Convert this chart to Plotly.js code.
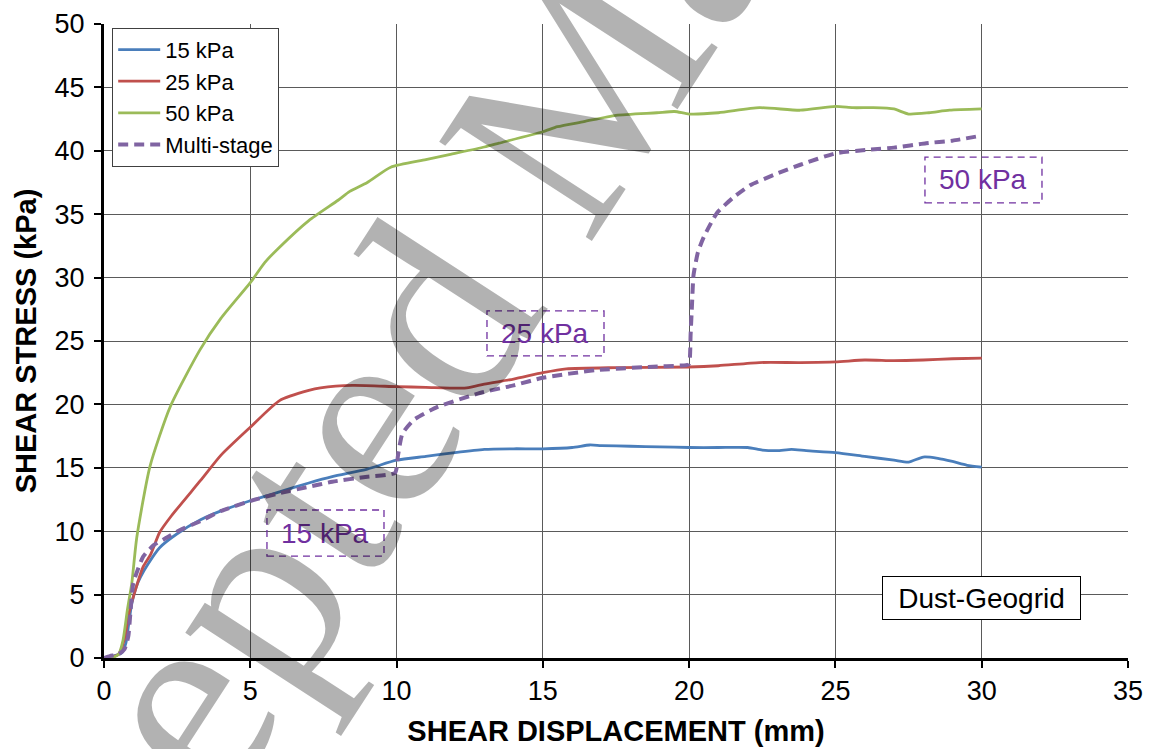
<!DOCTYPE html>
<html>
<head>
<meta charset="utf-8">
<script src="https://cdn.plot.ly/plotly-3.0.1.min.js"></script>
<style>
  html, body { margin: 0; padding: 0; background: #fff; }
  #chart { width: 1154px; height: 749px; }
</style>
</head>
<body>
<div id="chart"></div>
<script>
// Direct shear tests, dust against geogrid: shear stress vs. shear displacement

const seriesNames = ['15 kPa', '25 kPa', '50 kPa', 'Multi-stage'];

// 15 kPa normal stress
const disp15 = [0, 0.3, 0.6, 0.75, 0.85, 0.95, 1.1, 1.25, 1.5, 1.9, 2.5, 3.3, 4, 5, 6, 7, 7.8, 9, 10, 11, 12, 13, 14, 15, 16, 16.6, 17, 18, 19, 20, 21, 22, 22.5, 23, 23.5, 24, 25, 26, 27, 27.5, 28, 28.5, 29, 29.5, 30];
const stress15 = [0, 0.15, 0.4, 1.2, 2.8, 4.3, 5.6, 6.4, 7.4, 8.7, 9.8, 10.9, 11.6, 12.4, 13.1, 13.8, 14.3, 14.9, 15.6, 15.9, 16.2, 16.45, 16.5, 16.5, 16.6, 16.8, 16.75, 16.7, 16.65, 16.6, 16.6, 16.6, 16.4, 16.35, 16.45, 16.35, 16.2, 15.9, 15.6, 15.45, 15.85, 15.75, 15.5, 15.2, 15.06];

// 25 kPa normal stress
const disp25 = [0, 0.3, 0.5, 0.7, 0.85, 1.0, 1.34, 1.6, 1.9, 2.3, 3.3, 4, 5, 6, 7, 7.4, 8.5, 10, 11, 12.4, 13, 14, 15, 15.8, 17.5, 20, 21, 22.4, 23.8, 25, 26, 27, 28, 29, 30];
const stress25 = [0, 0.1, 0.3, 1.5, 3.5, 4.8, 7.2, 8.2, 9.9, 11.2, 14.0, 16.0, 18.2, 20.3, 21.1, 21.3, 21.5, 21.4, 21.35, 21.3, 21.6, 22.0, 22.5, 22.8, 22.9, 22.95, 23.05, 23.3, 23.3, 23.35, 23.5, 23.45, 23.5, 23.6, 23.65];

// 50 kPa normal stress
const disp50 = [0, 0.3, 0.5, 0.65, 0.8, 0.95, 1.12, 1.57, 2.26, 3.28, 4, 5, 5.5, 6, 7, 8, 8.4, 9, 9.8, 11, 11.8, 13, 13.5, 15, 15.5, 16.4, 17.5, 18.9, 19.5, 20, 21, 22.4, 23.8, 25, 25.6, 26.3, 27, 27.5, 28.2, 28.9, 30];
const stress50 = [0, 0.05, 0.3, 1.4, 3.8, 5.9, 9.5, 15.1, 19.8, 24.3, 26.8, 29.6, 31.2, 32.4, 34.5, 36.1, 36.8, 37.5, 38.7, 39.3, 39.7, 40.3, 40.6, 41.5, 41.9, 42.3, 42.8, 43.0, 43.1, 42.9, 43.0, 43.4, 43.2, 43.5, 43.4, 43.4, 43.3, 42.9, 43.0, 43.2, 43.3];

// Multi-stage test: 15 -> 25 -> 50 kPa
const dispMulti = [0, 0.2, 0.5, 0.7, 0.83, 0.9, 1.0, 1.34, 1.7, 2.15, 2.6, 3.3, 4, 5.1, 6, 7, 7.8, 9, 9.95, 10.05, 10.2, 10.6, 11.4, 12.85, 14, 15, 16.8, 18.6, 19.9, 20.0, 20.05, 20.1, 20.15, 20.3, 20.5, 20.95, 21.5, 22.1, 23, 23.8, 25, 26.2, 27, 28.1, 29, 30];
const stressMulti = [0, 0.15, 0.3, 0.7, 1.7, 3.5, 5.9, 8.0, 8.9, 9.5, 10.1, 10.8, 11.6, 12.45, 13.0, 13.5, 13.9, 14.3, 14.6, 16.0, 17.7, 18.8, 19.8, 20.9, 21.5, 22.1, 22.7, 22.95, 23.1, 23.2, 25.5, 28.0, 30.2, 32.0, 33.2, 35.1, 36.3, 37.3, 38.2, 38.9, 39.8, 40.1, 40.25, 40.6, 40.8, 41.2];

// Stage labels and specimen label
const stageLabels = ['15 kPa', '25 kPa', '50 kPa'];
const specimenLabel = 'Dust-Geogrid';
const watermarkText = 'Accepted Manuscript';

const xTitle = 'SHEAR DISPLACEMENT (mm)';
const yTitle = 'SHEAR STRESS (kPa)';

const colors = ['#4A7EBB', '#C0504D', '#9BBB59', '#8064A2'];
const stageColor = '#7030A0';
const baseFont = 'Liberation Sans, Arial, sans-serif';

const traces = [
  { x: disp15, y: stress15, name: seriesNames[0], mode: 'lines',
    line: { color: colors[0], width: 2.8, shape: 'spline', smoothing: 0.6 } },
  { x: disp25, y: stress25, name: seriesNames[1], mode: 'lines',
    line: { color: colors[1], width: 2.8, shape: 'spline', smoothing: 0.6 } },
  { x: disp50, y: stress50, name: seriesNames[2], mode: 'lines',
    line: { color: colors[2], width: 2.8, shape: 'spline', smoothing: 0.6 } },
  { x: dispMulti, y: stressMulti, name: seriesNames[3], mode: 'lines',
    line: { color: colors[3], width: 4, dash: '10px,6px', shape: 'spline', smoothing: 0.5 } }
];

// Dashed boxes around the stage labels (data coordinates)
const stageBoxes = [
  { x0: 5.57, x1: 9.57, y0: 8.04, y1: 11.67 },
  { x0: 13.09, x1: 17.09, y0: 23.82, y1: 27.37 },
  { x0: 28.06, x1: 32.06, y0: 35.9, y1: 39.5 }
];

const shapes = stageBoxes.map(b => ({
  type: 'rect', xref: 'x', yref: 'y',
  x0: b.x0, x1: b.x1, y0: b.y0, y1: b.y1,
  line: { color: stageColor, width: 1.3, dash: '7px,5px' },
  fillcolor: 'rgba(255,255,255,0)', layer: 'above'
}));

const annotations = stageLabels.map((t, i) => ({
  text: t, xref: 'x', yref: 'y',
  x: (stageBoxes[i].x0 + stageBoxes[i].x1) / 2,
  y: (stageBoxes[i].y0 + stageBoxes[i].y1) / 2,
  showarrow: false, xanchor: 'center', yanchor: 'middle',
  font: { family: baseFont, size: 28, color: stageColor }
}));

annotations.push({
  text: specimenLabel, xref: 'x', yref: 'y', x: 30, y: 4.73,
  showarrow: false, xanchor: 'center', yanchor: 'middle',
  width: 195, height: 40, borderpad: 1,
  bordercolor: '#000', borderwidth: 1, bgcolor: '#fff',
  font: { family: baseFont, size: 28, color: '#000' }
});

// Rotated, semi-transparent banner across the plot
annotations.push({
  text: watermarkText, xref: 'paper', yref: 'paper', x: 0.435, y: 0.826,
  showarrow: false, xanchor: 'center', yanchor: 'middle', textangle: -57,
  font: { family: 'Liberation Serif, Times New Roman, serif', size: 278, color: 'rgba(0,0,0,0.3)' }
});

const layout = {
  width: 1154, height: 749,
  margin: { l: 104, r: 26, t: 24, b: 91 },
  paper_bgcolor: '#fff', plot_bgcolor: '#fff',
  font: { family: baseFont, color: '#000' },
  showlegend: true,
  legend: {
    x: 0.008, y: 0.994, xanchor: 'left', yanchor: 'top',
    bgcolor: '#fff', bordercolor: '#404040', borderwidth: 1,
    font: { family: baseFont, size: 22, color: '#000' },
    itemwidth: 42,
    tracegroupgap: 0
  },
  xaxis: {
    range: [0, 35], dtick: 5, tick0: 0,
    showgrid: true, gridcolor: '#5a5a5a', gridwidth: 1,
    zeroline: false, showline: true, linecolor: '#000', linewidth: 3,
    ticks: 'outside', ticklen: 7, tickwidth: 2, tickcolor: '#000',
    tickfont: { family: baseFont, size: 27, color: '#000' },
    title: { text: xTitle, standoff: 16,
      font: { family: baseFont, size: 29, color: '#000', weight: 'bold' } }
  },
  yaxis: {
    range: [0, 50], dtick: 5, tick0: 0,
    showgrid: true, gridcolor: '#5a5a5a', gridwidth: 1,
    zeroline: false, showline: true, linecolor: '#000', linewidth: 3,
    ticks: 'outside', ticklen: 7, tickwidth: 2, tickcolor: '#000',
    ticklabelstandoff: 4,
    tickfont: { family: baseFont, size: 27, color: '#000' },
    title: { text: yTitle, standoff: 10,
      font: { family: baseFont, size: 29, color: '#000', weight: 'bold' } }
  },
  shapes: shapes,
  annotations: annotations
};

Plotly.newPlot('chart', traces, layout, { displayModeBar: false, staticPlot: true });
</script>
</body>
</html>
